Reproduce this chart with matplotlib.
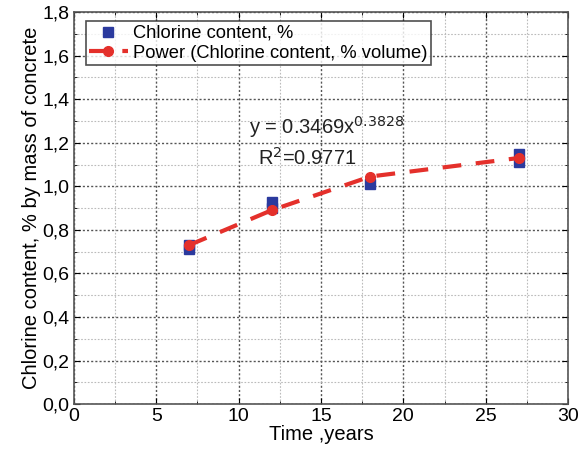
import matplotlib
matplotlib.use("Agg")
import matplotlib.pyplot as plt
from matplotlib.ticker import MultipleLocator, FuncFormatter

plt.rcParams["font.family"] = ["Liberation Sans", "DejaVu Sans"]

# measured chlorine content
years = [7, 7, 12, 12, 18, 27, 27]
chlorine = [0.71, 0.73, 0.90, 0.93, 1.01, 1.11, 1.15]

# power trend line values
trend_years = [7, 12, 18, 27]
trend_values = [0.73, 0.89, 1.045, 1.13]

fig = plt.figure(figsize=(5.82, 4.65), dpi=100)
ax = fig.add_axes([0.127, 0.131, 0.849, 0.843])

ax.plot(years, chlorine, "s", color="#2B3A9E", markersize=7.5,
        label="Chlorine content, %", zorder=3)
ax.plot(trend_years, trend_values, "--", color="#E4302B", linewidth=3,
        dashes=(4.5, 3.5), marker="o", markersize=7,
        label="Power (Chlorine content, % volume)", zorder=4)

ax.set_xlim(0, 30)
ax.set_ylim(0, 1.8)
ax.xaxis.set_major_locator(MultipleLocator(5))
ax.xaxis.set_minor_locator(MultipleLocator(2.5))
ax.yaxis.set_major_locator(MultipleLocator(0.2))
ax.yaxis.set_minor_locator(MultipleLocator(0.1))
ax.yaxis.set_major_formatter(FuncFormatter(lambda v, p: f"{v:.1f}".replace(".", ",")))

ax.grid(which="major", color="#555555", linestyle=(0, (1.5, 1.5)), linewidth=1)
ax.grid(which="minor", color="#bbbbbb", linestyle=(0, (1.5, 1.5)), linewidth=0.8)
ax.tick_params(which="both", direction="in", top=True, right=True, labelsize=14)
ax.tick_params(which="major", length=4, pad=3)
ax.tick_params(which="minor", length=2)
for s in ax.spines.values():
    s.set_color("#555555")
    s.set_linewidth(1.2)

ax.set_xlabel("Time ,years", fontsize=14.5, labelpad=0)
ax.set_ylabel("Chlorine content, % by mass of concrete", fontsize=14.5, labelpad=1)

ax.text(10.6, 1.27, r"y = 0.3469x$^{0.3828}$", fontsize=14.5, color="#222222",
        va="center")
ax.text(11.2, 1.13, r"R$^{2}$=0.9771", fontsize=14.5, color="#222222", va="center")

leg = ax.legend(loc="upper left", fontsize=13.2, frameon=True, fancybox=False,
                edgecolor="#222222", borderpad=0.2, handlelength=2.1,
                handletextpad=0.3, labelspacing=0.15,
                bbox_to_anchor=(0.005, 1.0))
leg.get_frame().set_linewidth(1.2)

fig.savefig("out.png", dpi=100)
